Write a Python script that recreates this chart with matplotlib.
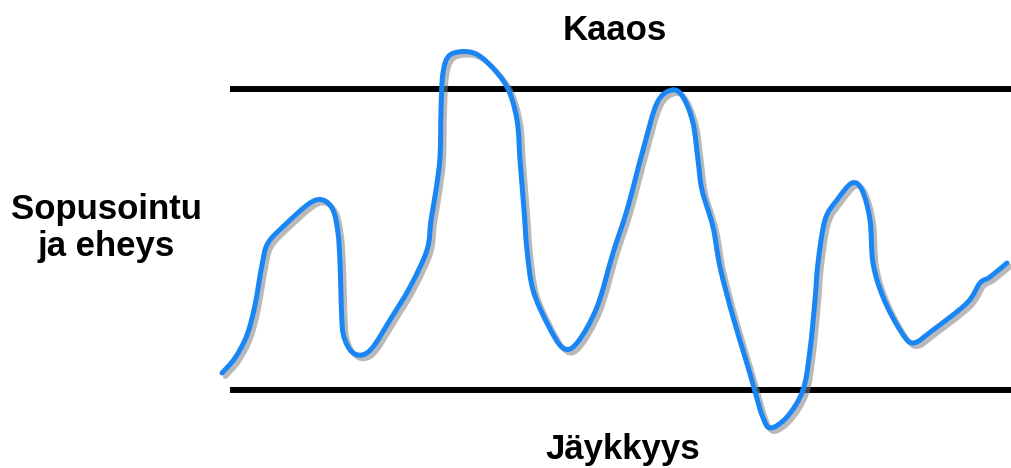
import matplotlib
matplotlib.use('Agg')
import matplotlib.pyplot as plt
import matplotlib.patheffects as pe
from matplotlib.path import Path
from matplotlib.patches import PathPatch

# curve (x to the right, y downward)
curve_x = [222, 235, 247, 255, 262, 268, 287, 310, 323, 333, 338, 340, 342, 345,
           352, 362, 373, 390, 410, 427, 431, 436, 440, 441, 443, 450, 470, 487,
           507, 517, 520, 524, 527, 533, 548, 563, 577, 597, 613, 627, 643, 657,
           672, 683, 693, 698, 702, 713, 720, 733, 748, 756, 762, 770, 787, 803,
           810, 815, 818, 825, 837, 852, 862, 870, 873, 883, 900, 913, 933, 967,
           980, 990, 1007]
curve_y = [373, 358, 335, 305, 265, 243, 223, 203, 200, 210, 233, 263, 323, 340,
           352, 355, 347, 320, 287, 250, 220, 190, 157, 110, 73, 55, 52, 62,
           87, 120, 160, 210, 250, 290, 325, 348, 343, 307, 253, 210, 150, 103,
           90, 97, 123, 160, 190, 227, 267, 317, 367, 395, 415, 428, 417, 390,
           350, 300, 263, 220, 200, 183, 190, 220, 263, 297, 330, 343, 330, 303,
           283, 277, 263]

top_line_y = 89
bottom_line_y = 390
line_x = [230, 1011]

labels = {'top': 'Kaaos', 'bottom': 'Jäykkyys', 'left': 'Sopusointu\nja eheys'}


def smooth_path(xs, ys):
    # bezier path through the traced points (catmull-rom handles)
    pts = list(zip(xs, ys))
    verts = [pts[0]]
    codes = [Path.MOVETO]
    n = len(pts)
    for i in range(n - 1):
        p0 = pts[max(i - 1, 0)]
        p1 = pts[i]
        p2 = pts[i + 1]
        p3 = pts[min(i + 2, n - 1)]
        c1 = (p1[0] + (p2[0] - p0[0]) / 6, p1[1] + (p2[1] - p0[1]) / 6)
        c2 = (p2[0] - (p3[0] - p1[0]) / 6, p2[1] - (p3[1] - p1[1]) / 6)
        verts += [c1, c2, p2]
        codes += [Path.CURVE4] * 3
    return Path(verts, codes)


fig = plt.figure(figsize=(10.11, 4.68), dpi=100)
ax = fig.add_axes([0, 0, 1, 1])
ax.set_xlim(0, 1011)
ax.set_ylim(468, 0)
ax.axis('off')

ax.plot(line_x, [top_line_y, top_line_y], color='black', lw=4.3, solid_capstyle='butt')
ax.plot(line_x, [bottom_line_y, bottom_line_y], color='black', lw=4.3, solid_capstyle='butt')

wave = PathPatch(smooth_path(curve_x, curve_y), fill=False, edgecolor='#1a86f5', lw=3.6,
                 joinstyle='round', capstyle='round', zorder=3)
wave.set_path_effects([pe.SimpleLineShadow(offset=(2.5, -2.5), shadow_color='#808080', alpha=0.55),
                       pe.Normal()])
ax.add_patch(wave)

font = dict(family=['Liberation Sans', 'DejaVu Sans'], fontweight='bold', fontsize=25)
ax.text(615, 30, labels['top'], ha='center', va='center', **font)
ax.text(623, 449, labels['bottom'], ha='center', va='center', **font)
ax.text(106, 228, labels['left'], ha='center', va='center', linespacing=1.15, **font)

fig.savefig('out.png', dpi=100)
